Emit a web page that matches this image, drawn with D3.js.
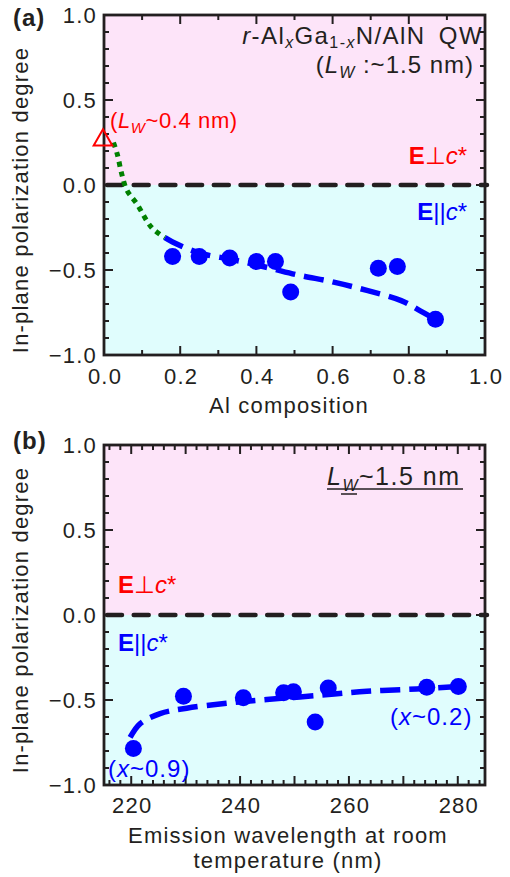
<!DOCTYPE html>
<html>
<head>
<meta charset="utf-8">
<script src="https://cdn.jsdelivr.net/npm/d3@7"></script>
<style>
  body { margin: 0; background: #fff; }
  svg text { font-family: "Liberation Sans", Arial, sans-serif; fill: #231f20; }
  .lbl { font-size: 22px; letter-spacing: 1.2px; }
</style>
</head>
<body>
<div id="chart"></div>
<script>
// panel (a): polarization vs Al composition
var alComp = [0.18, 0.25, 0.33, 0.40, 0.45, 0.49, 0.72, 0.77, 0.87];
var polA   = [-0.42, -0.42, -0.43, -0.45, -0.45, -0.63, -0.49, -0.48, -0.79];
var thinX  = [0.0];
var thinY  = [0.27];
var greenFitX = [0.025, 0.035, 0.046, 0.06, 0.086, 0.125, 0.16];
var greenFitY = [0.25, 0.18, 0.07, -0.03, -0.11, -0.25, -0.31];
var blueFitX  = [0.16, 0.18, 0.25, 0.34, 0.43, 0.51, 0.60, 0.69, 0.78, 0.83, 0.87];
var blueFitY  = [-0.31, -0.335, -0.40, -0.44, -0.486, -0.53, -0.57, -0.62, -0.68, -0.74, -0.79];

// panel (b): polarization vs emission wavelength
var wavelength = [220.4, 229.6, 240.6, 248.0, 249.8, 253.8, 256.2, 274.3, 280.1];
var polB       = [-0.785, -0.478, -0.487, -0.458, -0.452, -0.63, -0.43, -0.425, -0.42];
var fitBX = [219.8, 221.6, 225.3, 230.2, 237.5, 244.9, 254.1, 263.3, 272.4, 280.1];
var fitBY = [-0.72, -0.64, -0.58, -0.548, -0.519, -0.497, -0.474, -0.449, -0.435, -0.42];

var yTicks = [-1.0, -0.5, 0.0, 0.5, 1.0];
var xTicksA = [0.0, 0.2, 0.4, 0.6, 0.8, 1.0];
var xTicksB = [220, 240, 260, 280];

var w = 510, h = 877;
var ink = "#231f20";
var pink = "#fde4f9", cyan = "#e0fdfd";

var svg = d3.select("#chart").append("svg")
    .attr("width", w)
    .attr("height", h);

var left = 104, right = 485;

function fmt(v) {
    var s = d3.format(".1f")(Math.abs(v));
    return v < 0 ? "\u2212" + s : s;
}

function panel(top, bottom, xDomain, xMajor, xMinor) {
    var x = d3.scaleLinear().domain(xDomain).range([left, right]);
    var y = d3.scaleLinear().domain([-1, 1]).range([bottom, top]);
    var g = svg.append("g");

    g.append("rect").attr("x", left).attr("y", y(1)).attr("width", right - left)
        .attr("height", y(0) - y(1)).style("fill", pink);
    g.append("rect").attr("x", left).attr("y", y(0)).attr("width", right - left)
        .attr("height", y(-1) - y(0)).style("fill", cyan);

    g.append("line")
        .attr("x1", left + 3).attr("x2", right + 2)
        .attr("y1", y(0)).attr("y2", y(0))
        .style("stroke", ink).style("stroke-width", 4.5)
        .style("stroke-linecap", "round")
        .style("stroke-dasharray", "15,11.7");

    // frame
    g.append("rect").attr("class", "frame")
        .attr("x", left).attr("y", top).attr("width", right - left).attr("height", bottom - top)
        .style("fill", "none").style("stroke", ink).style("stroke-width", 2.8);

    // y ticks (left + right, inward)
    d3.range(-1, 1.0001, 0.1).forEach(function(v) {
        var major = Math.abs(v * 2 - Math.round(v * 2)) < 1e-6;
        var len = major ? 9 : 5;
        g.append("line").attr("x1", left).attr("x2", left + len)
            .attr("y1", y(v)).attr("y2", y(v)).style("stroke", ink).style("stroke-width", 2);
        g.append("line").attr("x1", right).attr("x2", right - len)
            .attr("y1", y(v)).attr("y2", y(v)).style("stroke", ink).style("stroke-width", 2);
    });
    // x ticks (bottom + top, inward)
    xMinor.forEach(function(v) {
        var major = xMajor.some(function(m) { return Math.abs(m - v) < 1e-6; });
        var len = major ? 9 : 5;
        g.append("line").attr("x1", x(v)).attr("x2", x(v))
            .attr("y1", bottom).attr("y2", bottom - len).style("stroke", ink).style("stroke-width", 2);
        g.append("line").attr("x1", x(v)).attr("x2", x(v))
            .attr("y1", top).attr("y2", top + len).style("stroke", ink).style("stroke-width", 2);
    });

    g.selectAll("text.yt").data(yTicks).enter().append("text")
        .attr("class", "yt lbl")
        .attr("x", left - 7).attr("y", function(d) { return y(d) + 8; })
        .attr("text-anchor", "end")
        .text(fmt);

    return {x: x, y: y, g: g};
}

var line = d3.line().curve(d3.curveCatmullRom);

// ---------- panel (a)
var pa = panel(15, 355, [0, 1], [0, 0.2, 0.4, 0.6, 0.8, 1.0], d3.range(0, 1.0001, 0.1));
pa.g.selectAll("text.xt").data(xTicksA).enter().append("text")
    .attr("class", "xt lbl")
    .attr("x", function(d) { return pa.x(d) + 1; }).attr("y", 384)
    .attr("text-anchor", "middle")
    .text(function(d) { return d3.format(".1f")(d); });

var fitLayer = pa.g.insert("g", ".frame");
fitLayer.append("path")
    .attr("d", line(greenFitX.map(function(v, i) { return [pa.x(v), pa.y(greenFitY[i])]; })))
    .style("fill", "none").style("stroke", "#008000").style("stroke-width", 5)
    .style("stroke-dasharray", "5,5");
fitLayer.append("path")
    .attr("d", line(blueFitX.map(function(v, i) { return [pa.x(v), pa.y(blueFitY[i])]; })))
    .style("fill", "none").style("stroke", "#0000ff").style("stroke-width", 5.5)
    .style("stroke-dasharray", "20,9");
fitLayer.selectAll("circle").data(alComp).enter().append("circle")
    .attr("cx", function(d) { return pa.x(d); })
    .attr("cy", function(d, i) { return pa.y(polA[i]); })
    .attr("r", 8.5).style("fill", "#0000ff");

var tri = d3.symbol().type(d3.symbolTriangle).size(150);
pa.g.selectAll("path.tri").data(thinX).enter().append("path")
    .attr("transform", function(d, i) { return "translate(" + (pa.x(d) - 1) + "," + (pa.y(thinY[i]) + 1) + ")"; })
    .attr("d", tri).style("fill", "none").style("stroke", "#ff0000").style("stroke-width", 2);

// annotations (a)
var t1 = pa.g.append("text").attr("x", 483).attr("y", 44).attr("text-anchor", "end")
    .style("font-size", "24px").style("letter-spacing", "1.4px");
t1.append("tspan").style("font-style", "italic").text("r");
t1.append("tspan").text("-Al");
t1.append("tspan").style("font-style", "italic").style("font-size", "16px").attr("dy", 4).text("x");
t1.append("tspan").attr("dy", -4).text("Ga");
t1.append("tspan").style("font-size", "16px").attr("dy", 4).text("1-");
t1.append("tspan").style("font-style", "italic").style("font-size", "16px").text("x");
t1.append("tspan").attr("dy", -4).text("N/AlN\u2002QW");

var t2 = pa.g.append("text").attr("x", 474).attr("y", 73).attr("text-anchor", "end")
    .style("font-size", "24px").style("letter-spacing", "1px");
t2.append("tspan").text("(");
t2.append("tspan").style("font-style", "italic").text("L");
t2.append("tspan").style("font-style", "italic").style("font-size", "16px").attr("dy", 5).text("W");
t2.append("tspan").attr("dy", -5).text(" :~1.5 nm)");

var t3 = pa.g.append("text").attr("x", 110).attr("y", 128)
    .style("font-size", "22px").style("letter-spacing", "0.6px").style("fill", "#ff0000");
t3.append("tspan").text("(");
t3.append("tspan").style("font-style", "italic").text("L");
t3.append("tspan").style("font-style", "italic").style("font-size", "15px").attr("dy", 5).text("W");
t3.append("tspan").attr("dy", -5).text("~0.4 nm)");

function eLabel(g, xx, yy, anchor, perp, color) {
    var t = g.append("text").attr("x", xx).attr("y", yy).attr("text-anchor", anchor)
        .style("font-size", "24px").style("fill", color);
    t.append("tspan").style("font-weight", "bold").text("E");
    t.append("tspan").text(perp ? "\u22a5" : "||");
    t.append("tspan").style("font-style", "italic").text("c");
    t.append("tspan").text("*");
}
eLabel(pa.g, 467, 164, "end", true, "#ff0000");
eLabel(pa.g, 467, 220, "end", false, "#0000ff");

svg.append("text").attr("x", 13).attr("y", 26).style("font-size", "24px").style("letter-spacing", "1px")
    .style("font-weight", "bold").text("(a)");
svg.append("text").attr("class", "lbl").attr("x", 289).attr("y", 413).attr("text-anchor", "middle").text("Al composition");
svg.append("text").attr("class", "lbl").attr("transform", "translate(28,200) rotate(-90)").attr("text-anchor", "middle")
    .text("In-plane polarization degree");

// ---------- panel (b)
var pb = panel(445, 785, [215, 285], [220, 230, 240, 250, 260, 270, 280], d3.range(216, 285, 2));
pb.g.selectAll("text.xt").data(xTicksB).enter().append("text")
    .attr("class", "xt lbl")
    .attr("x", function(d) { return pb.x(d) + 1; }).attr("y", 813)
    .attr("text-anchor", "middle")
    .text(function(d) { return d; });

var fitLayerB = pb.g.insert("g", ".frame");
fitLayerB.append("path")
    .attr("d", line(fitBX.map(function(v, i) { return [pb.x(v), pb.y(fitBY[i])]; })))
    .style("fill", "none").style("stroke", "#0000ff").style("stroke-width", 5.5)
    .style("stroke-dasharray", "20,9");
fitLayerB.selectAll("circle").data(wavelength).enter().append("circle")
    .attr("cx", function(d) { return pb.x(d); })
    .attr("cy", function(d, i) { return pb.y(polB[i]); })
    .attr("r", 8.5).style("fill", "#0000ff");

var t4 = pb.g.append("text").attr("x", 327).attr("y", 485)
    .style("font-size", "25px").style("letter-spacing", "1.5px");
t4.append("tspan").style("font-style", "italic").text("L");
t4.append("tspan").style("font-style", "italic").style("font-size", "16px").attr("dy", 6).text("W");
t4.append("tspan").attr("dy", -6).text("~1.5 nm");
pb.g.append("line").attr("x1", 327).attr("x2", 463).attr("y1", 489).attr("y2", 489)
    .style("stroke", ink).style("stroke-width", 1.5);
pb.g.append("line").attr("x1", 341).attr("x2", 357).attr("y1", 494).attr("y2", 494)
    .style("stroke", ink).style("stroke-width", 1.5);

eLabel(pb.g, 118, 593, "start", true, "#ff0000");
eLabel(pb.g, 118, 651, "start", false, "#0000ff");

function xLabel(g, xx, yy, val) {
    var t = g.append("text").attr("x", xx).attr("y", yy)
        .style("font-size", "24px").style("letter-spacing", "1px").style("fill", "#0000ff");
    t.append("tspan").text("(");
    t.append("tspan").style("font-style", "italic").text("x");
    t.append("tspan").text("~" + val + ")");
}
xLabel(pb.g, 390, 725, "0.2");
xLabel(pb.g, 108, 777, "0.9");

svg.append("text").attr("x", 13).attr("y", 449).style("font-size", "24px").style("letter-spacing", "1px")
    .style("font-weight", "bold").text("(b)");
svg.append("text").attr("class", "lbl").attr("x", 288).attr("y", 843).attr("text-anchor", "middle").text("Emission wavelength at room");
svg.append("text").attr("class", "lbl").attr("x", 288).attr("y", 868).attr("text-anchor", "middle").text("temperature (nm)");
svg.append("text").attr("class", "lbl").attr("transform", "translate(28,620) rotate(-90)").attr("text-anchor", "middle")
    .text("In-plane polarization degree");
</script>
</body>
</html>
